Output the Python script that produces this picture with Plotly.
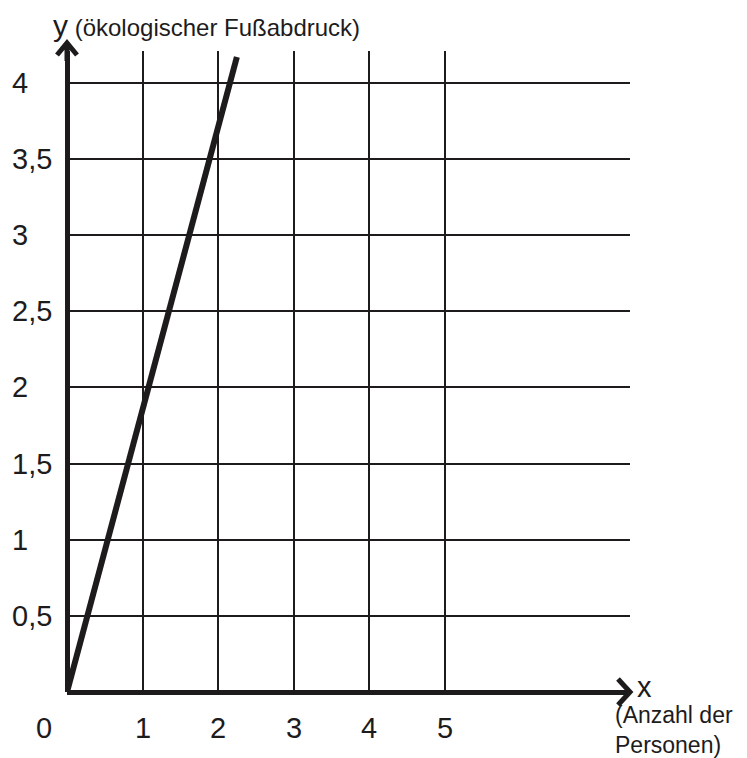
import plotly.graph_objects as go

# ---- data ----
line_x = [0, 2.25]
line_y = [0, 4.17]

x_ticks = [1, 2, 3, 4, 5]
x_tick_labels = ["1", "2", "3", "4", "5"]
y_ticks = [0.5, 1, 1.5, 2, 2.5, 3, 3.5, 4]
y_tick_labels = ["0,5", "1", "1,5", "2", "2,5", "3", "3,5", "4"]
origin_label = "0"
y_title = "y"
y_subtitle = "(ökologischer Fußabdruck)"
x_title = "x"
x_subtitle = "(Anzahl der<br>Personen)"

X_MAX = 7.457
Y_MAX = 4.21

INK = "#1d1b1c"
FONT = "Liberation Sans, Arial, Helvetica, sans-serif"

fig = go.Figure()
fig.add_trace(go.Scatter(
    x=line_x, y=line_y, mode="lines",
    line=dict(color=INK, width=6),
    hoverinfo="skip", showlegend=False,
))

annotations = []
for v, t in zip(y_ticks, y_tick_labels):
    annotations.append(dict(
        x=0, y=v, xref="x", yref="y", text=t, showarrow=False,
        xanchor="left", yanchor="middle", xshift=-57,
        font=dict(family=FONT, size=29, color=INK),
    ))
for v, t in zip(x_ticks, x_tick_labels):
    annotations.append(dict(
        x=v, y=0, xref="x", yref="y", text=t, showarrow=False,
        xanchor="center", yanchor="middle", yshift=-36,
        font=dict(family=FONT, size=29, color=INK),
    ))
annotations.append(dict(
    x=0, y=0, xref="x", yref="y", text=origin_label, showarrow=False,
    xanchor="center", yanchor="middle", xshift=-23, yshift=-36,
    font=dict(family=FONT, size=29, color=INK),
))
annotations.append(dict(
    x=0, y=1, xref="x", yref="paper",
    text=f"<span style='font-size:30px'>{y_title}</span> {y_subtitle}",
    showarrow=False, xanchor="left", yanchor="bottom", xshift=-16, yshift=7,
    font=dict(family=FONT, size=24, color=INK),
))
annotations.append(dict(
    x=X_MAX, y=0, xref="x", yref="y", text=x_title, showarrow=False,
    xanchor="left", yanchor="middle", xshift=5, yshift=5,
    font=dict(family=FONT, size=29, color=INK),
))
annotations.append(dict(
    x=X_MAX, y=0, xref="x", yref="y", text=x_subtitle, showarrow=False,
    xanchor="left", yanchor="top", align="left", xshift=-17, yshift=-8,
    font=dict(family=FONT, size=23, color=INK),
))

shapes = [
    # y-axis arrow head + shaft extension
    dict(type="path", xref="paper", yref="paper", xsizemode="pixel", ysizemode="pixel",
         xanchor=0, yanchor=1,
         path="M -10,-4 L 0,8 L 10,-4 M 0,8 L 0,-10",
         line=dict(color=INK, width=5)),
    # x-axis arrow head
    dict(type="path", xref="paper", yref="paper", xsizemode="pixel", ysizemode="pixel",
         xanchor=1, yanchor=0,
         path="M -12,13 L 0,0 L -12,-13",
         line=dict(color=INK, width=5)),
]

# page body has an 8px margin, so the figure is offset by (8, 8)
fig.update_layout(
    width=739, height=750,
    margin=dict(l=59, r=117, t=43, b=66),
    paper_bgcolor="white", plot_bgcolor="white",
    showlegend=False,
    annotations=annotations,
    shapes=shapes,
    xaxis=dict(range=[0, X_MAX], tickvals=x_ticks, showticklabels=False,
               showgrid=True, gridcolor=INK, gridwidth=2,
               zeroline=True, zerolinecolor=INK, zerolinewidth=5,
               showline=False, ticks="", fixedrange=True),
    yaxis=dict(range=[0, Y_MAX], tickvals=y_ticks, showticklabels=False,
               showgrid=True, gridcolor=INK, gridwidth=2,
               zeroline=True, zerolinecolor=INK, zerolinewidth=5,
               showline=False, ticks="", fixedrange=True),
)

fig.write_html("out.html")
